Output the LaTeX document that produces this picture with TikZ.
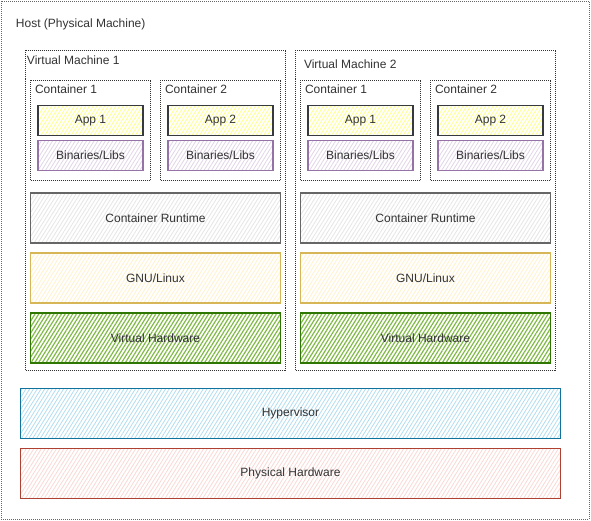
\documentclass[tikz,border=0pt]{standalone}
\usepackage{fontspec}
\setmainfont{Liberation Sans}
\usetikzlibrary{patterns.meta}
\definecolor{txt}{HTML}{333333}
\definecolor{dotc}{HTML}{333333}
\definecolor{appF}{HTML}{FFFF88}\definecolor{appS}{HTML}{36393D}
\definecolor{binF}{HTML}{E1D5E7}\definecolor{binS}{HTML}{9673A6}
\definecolor{rtF}{HTML}{E6E6E6}\definecolor{rtS}{HTML}{666666}
\definecolor{lxF}{HTML}{FFF2CC}\definecolor{lxS}{HTML}{D6B656}
\definecolor{vhF}{HTML}{60A917}\definecolor{vhS}{HTML}{2D7600}
\definecolor{hvF}{HTML}{B1DDF0}\definecolor{hvS}{HTML}{10739E}
\definecolor{phF}{HTML}{FAD9D5}\definecolor{phS}{HTML}{AE4132}
\tikzset{
  every node/.style={font=\fontsize{12}{14}\selectfont, text=txt, inner sep=0pt, outer sep=0pt},
  dotbox/.style={draw=dotc, line width=0.9pt, dash pattern=on 1pt off 1pt, rectangle},
  lbl/.style={anchor=west},
  layer/.style 2 args={draw=#2, line width=1.2pt, rectangle,
    pattern={Lines[angle=58,distance=3.2pt,line width=0.8pt]}, pattern color=#1},
  greenlayer/.style={draw=vhS, line width=1.2pt, rectangle,
    pattern={Lines[angle=58,distance=3.2pt,line width=1.2pt]}, pattern color=vhF!80},
  appbox/.style={layer={appF}{appS}, minimum width=105pt, minimum height=30pt},
  binbox/.style={layer={binF}{binS}, minimum width=105pt, minimum height=30pt},
  rtbox/.style={layer={rtF}{rtS}, minimum width=250pt, minimum height=50pt},
  lxbox/.style={layer={lxF}{lxS}, minimum width=250pt, minimum height=50pt},
  vhbox/.style={greenlayer, minimum width=250pt, minimum height=50pt},
  contbox/.style={dotbox, minimum width=120pt, minimum height=100pt},
  vmbox/.style={dotbox, minimum width=260pt, minimum height=320pt},
}
\begin{document}
\begin{tikzpicture}[x=1pt,y=-1pt]
\fill[white] (0,0) rectangle (591,521);
\useasboundingbox (0,0) rectangle (591,521);
% host
\node[dotbox, draw=gray!80!black, minimum width=588pt, minimum height=518pt] (host) at (295,260) {};
\node[lbl] (hostl) at (16,24) {Host (Physical Machine)};
% VMs
\node[vmbox] (vm1) at (155.5,210.5) {};
\node[vmbox] (vm2) at (425.5,210.5) {};
\node[lbl] (vm1l) at (27,60) {Virtual Machine 1};
\node[lbl] (vm2l) at (304,64.5) {Virtual Machine 2};
% containers
\node[contbox] (c11) at (90.5,130.5) {};
\node[contbox] (c12) at (220.5,130.5) {};
\node[contbox] (c21) at (360.5,130.5) {};
\node[contbox] (c22) at (490.5,130.5) {};
\node[lbl] (c11l) at (35,89.5) {Container 1};
\node[lbl] (c12l) at (165,89.5) {Container 2};
\node[lbl] (c21l) at (305,89.5) {Container 1};
\node[lbl] (c22l) at (435,89.5) {Container 2};
% apps and libs
\node[appbox] (a11) at (90.5,120.5) {App 1};
\node[appbox] (a12) at (220.5,120.5) {App 2};
\node[appbox] (a21) at (360.5,120.5) {App 1};
\node[appbox] (a22) at (490.5,120.5) {App 2};
\node[binbox] (b11) at (90.5,155.5) {Binaries/Libs};
\node[binbox] (b12) at (220.5,155.5) {Binaries/Libs};
\node[binbox] (b21) at (360.5,155.5) {Binaries/Libs};
\node[binbox] (b22) at (490.5,155.5) {Binaries/Libs};
% layers
\node[rtbox] (rt1) at (155.5,218) {Container Runtime};
\node[rtbox] (rt2) at (425.5,218) {Container Runtime};
\node[lxbox] (lx1) at (155.5,278) {GNU/Linux};
\node[lxbox] (lx2) at (425.5,278) {GNU/Linux};
\node[vhbox] (vh1) at (155.5,338) {Virtual Hardware};
\node[vhbox] (vh2) at (425.5,338) {Virtual Hardware};
% hypervisor and hardware
\node[layer={hvF}{hvS}, minimum width=540pt, minimum height=50pt] (hv) at (290.5,413.5) {Hypervisor};
\node[layer={phF}{phS}, minimum width=540pt, minimum height=50pt] (ph) at (290.5,473.5) {Physical Hardware};
\end{tikzpicture}
\end{document}
